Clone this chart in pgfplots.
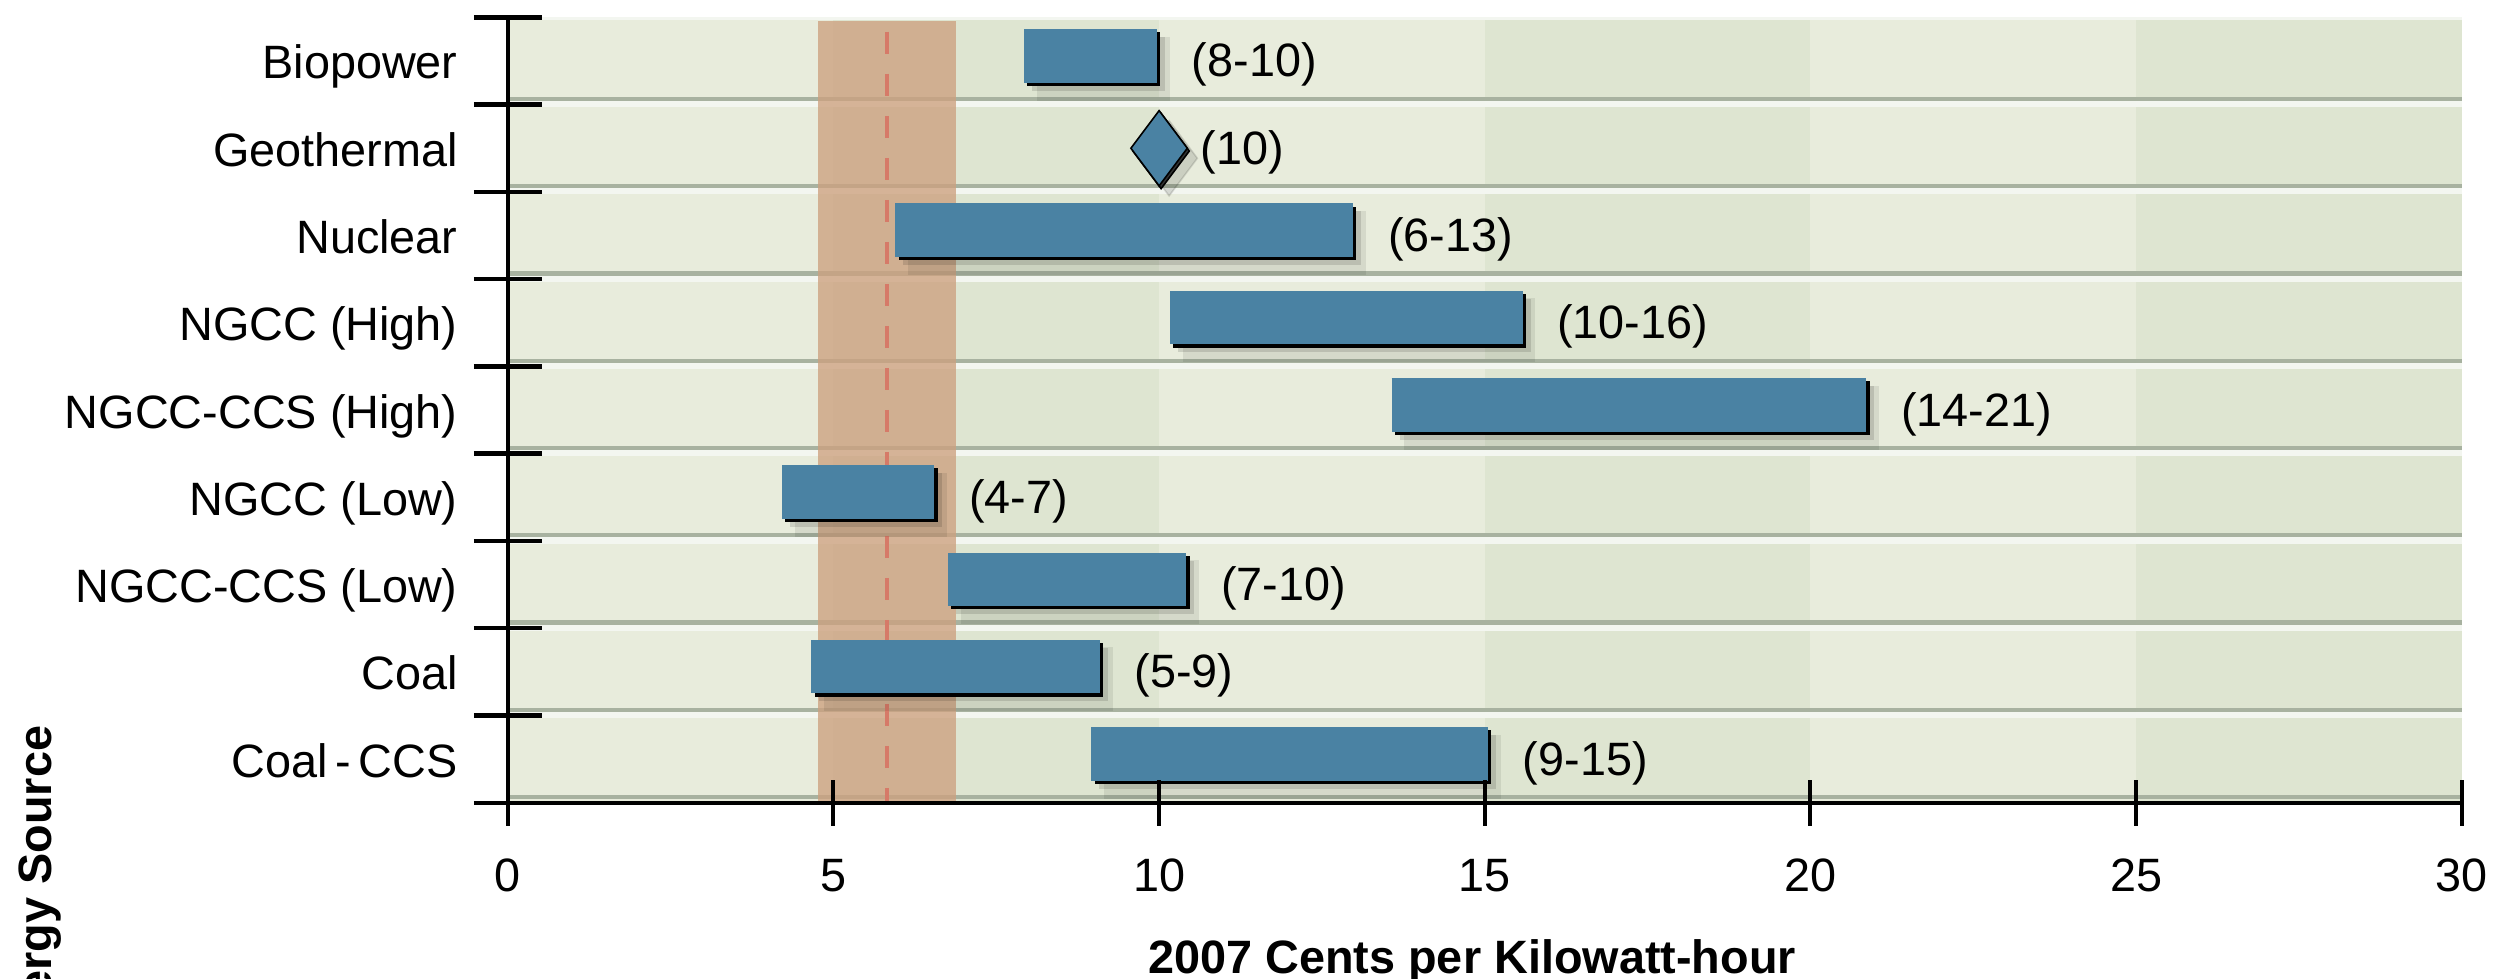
\documentclass[border=0pt]{standalone}
\usepackage{pgfplots}
\pgfplotsset{compat=1.18}
\usepackage{pgfplotstable}
\usepackage{fontspec}
\setmainfont{Liberation Sans}
\definecolor{bglight}{RGB}{232,236,220}
\definecolor{bgdark}{RGB}{222,229,209}
\definecolor{sepdark}{RGB}{168,178,160}
\definecolor{sepwhite}{RGB}{243,246,240}
\definecolor{band}{RGB}{205,161,127}
\definecolor{dashc}{RGB}{214,122,104}
\definecolor{barblue}{RGB}{74,130,163}
\newcommand\lbl{\fontsize{11.7}{14}\selectfont}

% floating bars: start and end of each bar, nan separates bars
\pgfplotstableread{
x y
7.93 8.56
9.97 8.56
nan nan
5.95 6.56
12.98 6.56
nan nan
10.17 5.56
15.58 5.56
nan nan
13.57 4.56
20.86 4.56
nan nan
4.21 3.56
6.55 3.56
nan nan
6.76 2.56
10.42 2.56
nan nan
4.66 1.56
9.09 1.56
nan nan
8.96 0.56
15.05 0.56
}\bars

\pgfplotstableread{
x y lab
9.97 8.5 (8-10)
12.98 6.5 (6-13)
15.58 5.5 (10-16)
20.86 4.5 (14-21)
6.55 3.5 (4-7)
10.42 2.5 (7-10)
9.09 1.5 (5-9)
15.05 0.5 (9-15)
}\labs

\pgfplotstableread{
x y lab
10 7.5 (10)
}\geo

\begin{document}
\begin{tikzpicture}
\begin{axis}[
  at={(0,0)}, anchor=south west,
  scale only axis, width=488.5pt, height=196.35pt,
  xmin=0, xmax=30, ymin=0, ymax=9,
  axis on top,
  axis x line*=bottom, axis y line*=left,
  axis line style={line width=1.1pt, -},
  xtick={0,5,...,30},
  ytick={0.5,1.5,...,8.5},
  yticklabels={Coal\,-\,CCS, Coal, NGCC-CCS (Low), NGCC (Low), NGCC-CCS (High), NGCC (High), Nuclear, Geothermal, Biopower},
  minor ytick={0,1,...,9},
  tick align=center,
  major tick length=11.5pt,
  minor tick length=17pt,
  major y tick style={opacity=0},
  minor y tick style={line width=1.1pt, black},
  major x tick style={line width=1pt, black},
  /pgf/number format/assume math mode=true,
  yticklabel style={anchor=base east, inner sep=0pt, xshift=-6.6pt, yshift=-4.5pt, font=\lbl, text=black},
  xticklabel style={anchor=base, inner sep=0pt, yshift=-16.5pt, font=\lbl, text=black},
  xlabel={2007 Cents per Kilowatt-hour},
  ylabel={Energy Source},
  every axis x label/.style={at={(axis description cs:0.4935,0)}, anchor=base, inner sep=0pt, yshift=-42.6pt, font=\bfseries\lbl},
  every axis y label/.style={at={(axis description cs:-0.2333,0.099)}, rotate=90, anchor=base east, inner sep=0pt, font=\bfseries\lbl},
]
% background columns
\fill[bglight] (0,0) rectangle (5,9);
\fill[bgdark] (5,0) rectangle (10,9);
\fill[bglight] (10,0) rectangle (15,9);
\fill[bgdark] (15,0) rectangle (20,9);
\fill[bglight] (20,0) rectangle (25,9);
\fill[bgdark] (25,0) rectangle (30,9);
% row separators
\fill[sepdark] (0,0.04) rectangle (30,0.09);
\fill[sepdark] (0,1.04) rectangle (30,1.09);
\fill[sepwhite] (0,0.97) rectangle (30,1.04);
\fill[sepdark] (0,2.04) rectangle (30,2.09);
\fill[sepwhite] (0,1.97) rectangle (30,2.04);
\fill[sepdark] (0,3.04) rectangle (30,3.09);
\fill[sepwhite] (0,2.97) rectangle (30,3.04);
\fill[sepdark] (0,4.04) rectangle (30,4.09);
\fill[sepwhite] (0,3.97) rectangle (30,4.04);
\fill[sepdark] (0,5.04) rectangle (30,5.09);
\fill[sepwhite] (0,4.97) rectangle (30,5.04);
\fill[sepdark] (0,6.04) rectangle (30,6.09);
\fill[sepwhite] (0,5.97) rectangle (30,6.04);
\fill[sepdark] (0,7.04) rectangle (30,7.09);
\fill[sepwhite] (0,6.97) rectangle (30,7.04);
\fill[sepdark] (0,8.04) rectangle (30,8.09);
\fill[sepwhite] (0,7.97) rectangle (30,8.04);
\fill[sepwhite] (0,8.97) rectangle (30,9);
% reference band and dashed line
\addplot[draw=none, fill=band, fill opacity=0.78, forget plot] coordinates {(4.77,8.96) (6.88,8.96)} \closedcycle;
\addplot[dashc, line width=1pt, dash pattern=on 5.5pt off 5pt, forget plot] coordinates {(5.82,8.835) (5.82,0)};
% bar shadows
\addplot[black, opacity=0.08, line width=16pt, line cap=butt, xshift=3.2pt, yshift=-3.2pt, unbounded coords=jump, forget plot] table[x=x,y=y]{\bars};
\addplot[black, opacity=0.12, line width=13.4pt, line cap=butt, xshift=2pt, yshift=-2pt, unbounded coords=jump, forget plot] table[x=x,y=y]{\bars};
\addplot[black, line width=13.4pt, line cap=butt, xshift=0.8pt, yshift=-0.8pt, unbounded coords=jump, forget plot] table[x=x,y=y]{\bars};
% bars
\addplot[barblue, line width=13.4pt, line cap=butt, unbounded coords=jump, forget plot] table[x=x,y=y]{\bars};
% geothermal diamond
\addplot[only marks, mark=diamond*, mark size=9.4pt, mark options={fill=black, draw=none, opacity=0.12}, xshift=2.5pt, yshift=-2.5pt, forget plot] table[x=x,y=y]{\geo};
\addplot[only marks, mark=diamond*, mark size=9.4pt, mark options={fill=black!80, draw=none}, xshift=0.5pt, yshift=-0.7pt, forget plot] table[x=x,y=y]{\geo};
\addplot[only marks, mark=diamond*, mark size=9.4pt, mark options={fill=barblue, draw=none}, forget plot] table[x=x,y=y]{\geo};
% value labels
\addplot[draw=none, mark=none, nodes near coords, point meta=explicit symbolic,
  every node near coord/.style={anchor=base west, inner sep=0pt, xshift=8.5pt, yshift=-4pt, font=\lbl, text=black}, forget plot]
  table[x=x,y=y,meta=lab]{\labs};
\addplot[draw=none, mark=none, nodes near coords, point meta=explicit symbolic,
  every node near coord/.style={anchor=base west, inner sep=0pt, xshift=10.25pt, yshift=-4pt, font=\lbl, text=black}, forget plot]
  table[x=x,y=y,meta=lab]{\geo};
\end{axis}
\pgfresetboundingbox
\useasboundingbox (-126.95pt,-43.825pt) rectangle (500.3pt,200.675pt);
\end{tikzpicture}
\end{document}
